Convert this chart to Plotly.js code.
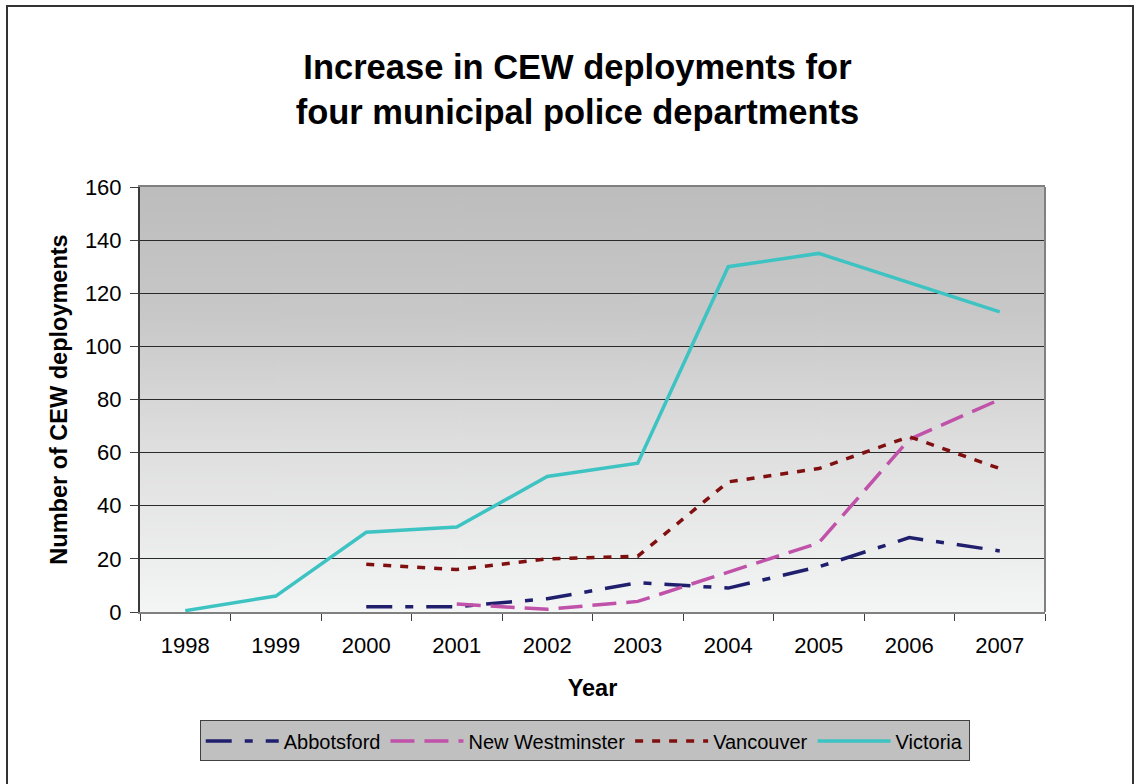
<!DOCTYPE html>
<html>
<head>
<meta charset="utf-8">
<script src="https://cdn.plot.ly/plotly-3.0.1.min.js"></script>
<style>
  html, body { margin: 0; padding: 0; background: #ffffff; }
  #frame { position: absolute; left: 6px; top: 5px; width: 1128px; height: 820px; border: 2px solid #333333; box-sizing: border-box; }
  #chart { position: absolute; left: 0; top: 0; width: 1139px; height: 784px; }
</style>
</head>
<body>
<div id="frame"></div>
<div id="chart"></div>
<script>
const years = ['1998','1999','2000','2001','2002','2003','2004','2005','2006','2007'];
const abbotsford     = [null, null, 2, 2, 5, 11, 9, 17, 28, 23];
const newWestminster = [null, null, null, 3, 1, 4, 15, 26, 65, 80];
const vancouver      = [null, null, 18, 16, 20, 21, 49, 54, 66, 54];
const victoria       = [0.5, 6, 30, 32, 51, 56, 130, 135, 124, 113];

// gradient background image for the plot area
const cv = document.createElement('canvas');
cv.width = 10; cv.height = 400;
const ctx = cv.getContext('2d');
const g = ctx.createLinearGradient(0, 0, 0, 400);
g.addColorStop(0, '#bdbdbd');
g.addColorStop(0.3, '#c8c8c8');
g.addColorStop(0.6, '#dededf');
g.addColorStop(1, '#f4f5f5');
ctx.fillStyle = g;
ctx.fillRect(0, 0, 10, 400);
const bg = cv.toDataURL('image/png');

const traces = [
  { name: 'Abbotsford', x: years, y: abbotsford, type: 'scatter', mode: 'lines',
    line: { color: '#1f1f6e', width: 3.5, dash: '26px,13px,8px,13px' } },
  { name: 'New Westminster', x: years, y: newWestminster, type: 'scatter', mode: 'lines',
    line: { color: '#c052a9', width: 3.5, dash: '24px,10px' } },
  { name: 'Vancouver', x: years, y: vancouver, type: 'scatter', mode: 'lines',
    line: { color: '#801010', width: 3.5, dash: '8px,9px' } },
  { name: 'Victoria', x: years, y: victoria, type: 'scatter', mode: 'lines',
    line: { color: '#3ec3c3', width: 3.5 } }
];

const layout = {
  width: 1139, height: 784,
  margin: { l: 140, r: 94, t: 187, b: 172 },
  paper_bgcolor: 'rgba(0,0,0,0)',
  plot_bgcolor: 'rgba(0,0,0,0)',
  font: { family: 'Liberation Sans, Arial, sans-serif', color: '#000000', size: 22 },
  title: {
    text: 'Increase in CEW deployments for<br>four municipal police departments',
    font: { size: 34.5, family: 'Liberation Sans, Arial, sans-serif', color: '#000000', weight: 'bold' },
    x: 0.507, xanchor: 'center', xref: 'container', yref: 'container', y: 0.899, yanchor: 'middle'
  },
  showlegend: true,
  legend: {
    orientation: 'h', x: 0.066, xanchor: 'left', y: -0.255, yanchor: 'top',
    bgcolor: '#c0c0c0', bordercolor: '#404040', borderwidth: 1,
    font: { size: 20, family: 'Liberation Sans, Arial, sans-serif', color: '#000000' },
    itemwidth: 73, traceorder: 'normal'
  },
  xaxis: {
    type: 'category', range: [-0.5, 9.5], fixedrange: true,
    tickson: 'boundaries', ticks: 'outside', ticklen: 7, tickcolor: '#404040', tickwidth: 1,
    showgrid: false, showline: true, linecolor: '#808080', linewidth: 2, mirror: true,
    tickfont: { size: 22 }, ticklabelstandoff: 13,
    title: { text: 'Year', font: { size: 23.5, weight: 'bold' }, standoff: 22 },
    automargin: false
  },
  yaxis: {
    range: [0, 160], dtick: 20, tick0: 0, fixedrange: true,
    ticks: 'outside', ticklen: 8, tickcolor: '#404040', tickwidth: 1,
    showgrid: true, gridcolor: '#2a2a2a', gridwidth: 1,
    showline: true, linecolor: '#3a3a3a', linewidth: 2, zeroline: false,
    tickfont: { size: 22 }, ticklabelstandoff: 4,
    title: { text: 'Number of CEW deployments', font: { size: 23.5, weight: 'bold' }, standoff: 11 },
    automargin: false
  },
  images: [{
    source: bg, xref: 'paper', yref: 'paper', x: 0, y: 1, sizex: 1, sizey: 1,
    sizing: 'stretch', xanchor: 'left', yanchor: 'top', layer: 'below'
  }],
  shapes: [{
    type: 'line', xref: 'paper', yref: 'paper', x0: 1, x1: 1, y0: 0, y1: 1,
    line: { color: '#808080', width: 2 }
  }]
};

Plotly.newPlot('chart', traces, layout, { displayModeBar: false, staticPlot: true });
</script>
</body>
</html>
